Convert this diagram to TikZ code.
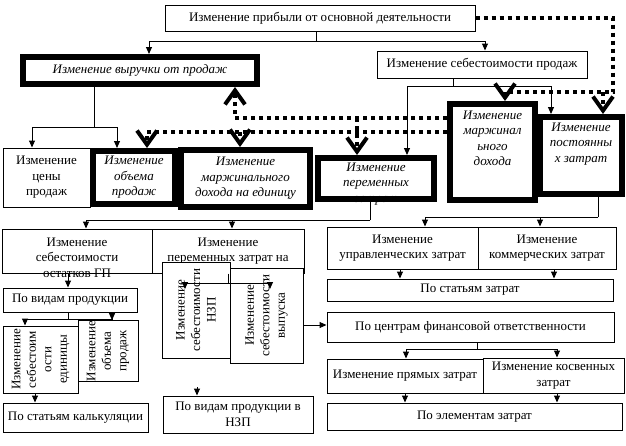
\documentclass[tikz,border=0pt]{standalone}
\usepackage{fontspec}
\setmainfont{Liberation Serif}
\usetikzlibrary{arrows.meta}

\begin{document}
\begin{tikzpicture}[x=1pt, y=-1pt, font=\fontsize{13}{15.5}\selectfont,
	thinbox/.style={draw, line width=1pt, align=center, inner sep=0pt},
	thickbox/.style={draw, line width=6pt, fill=white, align=center, inner sep=0pt, font=\fontsize{13}{15.5}\selectfont\itshape},
	rotbox/.style={thinbox, fill=white, rotate=90},
	txt/.style={align=center, inner sep=0pt},
	ital/.style={font=\fontsize{13}{15.5}\selectfont\itshape},
	wire/.style={line width=1pt},
	link/.style={line width=1pt, -{Triangle[length=7pt, width=6pt]}},
	dots/.style={line width=4pt, dash pattern=on 4pt off 4pt},
	vtip/.style={-{Straight Barb[length=14pt, width=20pt]}}]
	\useasboundingbox (0,0) rectangle (626,445);
	
	% Прибыль и первый уровень
	\node[thinbox, minimum width=310, minimum height=26] (top) at (320,18) {Изменение прибыли от основной деятельности};
	\node[thickbox, minimum width=234, minimum height=27] (vyr) at (140,70.5) {Изменение выручки от продаж};
	\node[thinbox, minimum width=210, minimum height=27] (sebprod) at (482,64.5) {Изменение себестоимости продаж};
	
	% Факторы выручки и себестоимости
	\node[thinbox, minimum width=87, minimum height=59] (cena) at (46.5,177.5) {Изменение\\цены\\продаж};
	\node[thickbox, minimum width=82, minimum height=53] (obyom) at (134,177.5) {Изменение\\объема\\продаж};
	\node[thickbox, minimum width=129, minimum height=57] (marzhed) at (245.5,178.5) {Изменение\\маржинального\\дохода на единицу};
	\node[txt, ital] (peremtext) at (376,184) {Изменение\\переменных\\затрат};
	\node[thickbox, fill=none, minimum width=116, minimum height=41] (perem) at (376,178.5) {};
	\node[thickbox, minimum width=85, minimum height=96] (marzh) at (492.5,152) {};
	\node[txt, ital] (marzhtext) at (492.5,138.5) {Изменение\\маржинал\\ьного\\дохода};
	\node[thickbox, minimum width=82, minimum height=77] (post) at (581,155.5) {};
	\node[txt, ital] (posttext) at (581,144) {Изменение\\постоянны\\х затрат};
	
	% Переменные затраты
	\node[txt] (sebosttext) at (77,257.5) {Изменение\\себестоимости\\остатков ГП};
	\node[thinbox, minimum width=150, minimum height=44] (sebost) at (77,251) {};
	\node[thinbox, minimum width=152, minimum height=44] (perna) at (228,251) {Изменение\\переменных затрат на};
	\node[rotbox, minimum width=96, minimum height=68] (nzp) at (196,310) {Изменение\\себестоимости\\НЗП};
	\node[rotbox, minimum width=95, minimum height=73] (vyp) at (266.5,315.5) {Изменение\\себестоимости\\выпуска};
	\node[thinbox, minimum width=134, minimum height=24] (vidprod) at (70,300) {По видам продукции};
	\node[rotbox, minimum width=67, minimum height=75] (sebed) at (40.5,359.5) {Изменение\\себестоим\\ости\\единицы};
	\node[rotbox, minimum width=56, minimum height=60] (obprod) at (108,351) {Изменение\\объема\\продаж};
	\node[thinbox, minimum width=145, minimum height=29] (kalk) at (75.5,417.5) {По статьям калькуляции};
	\node[thinbox, minimum width=150, minimum height=37] (nzpvid) at (238,414.5) {По видам продукции в\\НЗП};
	
	% Постоянные затраты
	\node[thinbox, minimum width=151, minimum height=42] (upr) at (402.5,248) {Изменение\\управленческих затрат};
	\node[thinbox, minimum width=138, minimum height=42] (komm) at (547,248) {Изменение\\коммерческих затрат};
	\node[thinbox, minimum width=286, minimum height=22] (statzat) at (470,290) {По статьям затрат};
	\node[thinbox, minimum width=287, minimum height=30] (centr) at (470.5,327) {По центрам финансовой ответственности};
	\node[thinbox, minimum width=156, minimum height=34] (pryam) at (405,376) {Изменение прямых затрат};
	\node[thinbox, minimum width=141, minimum height=35] (kosv) at (553.5,375.5) {Изменение косвенных\\затрат};
	\node[thinbox, minimum width=295, minimum height=27] (elem) at (474.5,416.5) {По элементам затрат};
	
	\coordinate (nzpin) at (185,289);
	\coordinate (vypin) at (270,289);
	\coordinate (nzpout) at (197,387);
	
	% Связи
	\draw[wire] (top.south -| 316,0) -- (316,41);
	\draw[link] (316,41) -| (vyr.north -| 149,0);
	\draw[link] (316,41) -| (sebprod.north -| 485,0);
	\draw[wire] (vyr.south -| 94,0) -- (94,127);
	\draw[link] (94,127) -| (cena.north -| 32,0);
	\draw[link] (94,127) -| (obyom.north -| 117,0);
	\draw[wire] (sebprod.south -| 453,0) -- (453,86);
	\draw[link] (453,86) -| (perem.north -| 407,0);
	\draw[link] (453,86) -| (post.north -| 551,0);
	
	% Пунктир
	\draw[dots] (top.east) -| (613,92) -- (505,92);
	\draw[dots, vtip] (505,92) -- (marzh.north -| 505,0);
	\draw[dots, vtip] (603,92) -- (post.north -| 603,0);
	\draw[dots, vtip] (marzh.west |- 0,118) -- (235,118) -- (vyr.south -| 235,0);
	\draw[dots, vtip] (marzh.west |- 0,132) -| (obyom.north -| 147,0);
	\draw[dots, vtip] (240,132) -- (marzhed.north -| 240,0);
	\draw[dots, vtip] (357,118) -- (perem.north -| 357,0);
	
	\draw[wire] (perem.south -| 370,0) -- (370,220);
	\draw[link] (370,220) -| (sebost.north -| 86,0);
	\draw[link] (370,220) -| (perna.north -| 232,0);
	\draw[wire] (post.south -| 598,0) -- (598,217);
	\draw[link] (598,217) -| (upr.north -| 425,0);
	\draw[link] (598,217) -| (komm.north -| 540,0);
	
	\draw[link] (sebost.south -| 68,0) -- (vidprod.north -| 68,0);
	\draw[wire] (vidprod.south -| 68,0) -- (68,319);
	\draw[link] (68,319) -| (sebed.east -| 25,0);
	\draw[link] (68,319) -| (obprod.east -| 112,0);
	\draw[link] (sebed.west -| 35,0) -- (kalk.north -| 35,0);
	
	\draw[wire] (perna.south) -- (228,283);
	\draw[link] (228,283) -| (nzpin);
	\draw[link] (228,283) -| (vypin);
	\draw[link] (vyp.south |- 0,325) -- (centr.west |- 0,325);
	\draw[link] (nzpout) -- (nzpvid.north -| nzpout);
	
	\draw[link] (upr.south -| 400,0) -- (statzat.north -| 400,0);
	\draw[link] (komm.south -| 554,0) -- (statzat.north -| 554,0);
	\draw[wire] (centr.south -| 477,0) -- (477,349);
	\draw[link] (477,349) -| (pryam.north -| 406,0);
	\draw[link] (477,349) -| (kosv.north -| 557,0);
	\draw[link] (pryam.south -| 405,0) -- (elem.north -| 405,0);
	\draw[link] (kosv.south -| 557,0) -- (elem.north -| 557,0);
	
\end{tikzpicture}
\end{document}
